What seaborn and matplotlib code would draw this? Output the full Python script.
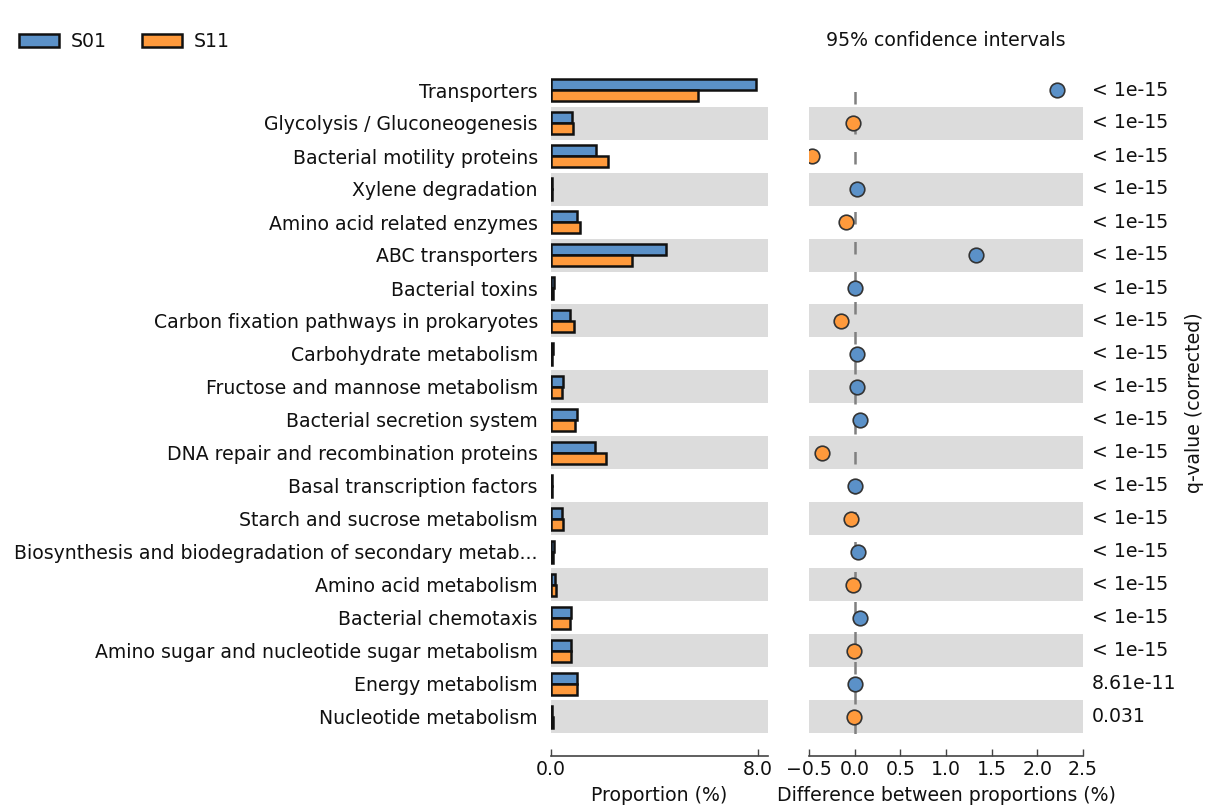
import matplotlib
matplotlib.use("Agg")
import matplotlib.pyplot as plt
from matplotlib.patches import Patch
import seaborn as sns
import pandas as pd

# Functional categories (top to bottom)
categories = [
    "Transporters",
    "Glycolysis / Gluconeogenesis",
    "Bacterial motility proteins",
    "Xylene degradation",
    "Amino acid related enzymes",
    "ABC transporters",
    "Bacterial toxins",
    "Carbon fixation pathways in prokaryotes",
    "Carbohydrate metabolism",
    "Fructose and mannose metabolism",
    "Bacterial secretion system",
    "DNA repair and recombination proteins",
    "Basal transcription factors",
    "Starch and sucrose metabolism",
    "Biosynthesis and biodegradation of secondary metab...",
    "Amino acid metabolism",
    "Bacterial chemotaxis",
    "Amino sugar and nucleotide sugar metabolism",
    "Energy metabolism",
    "Nucleotide metabolism",
]

# Mean proportions (%) per sample
s01 = [7.92, 0.82, 1.73, 0.05, 1.00, 4.47, 0.10, 0.75, 0.07, 0.45,
       1.00, 1.71, 0.03, 0.42, 0.12, 0.15, 0.78, 0.77, 1.00, 0.05]
s11 = [5.69, 0.86, 2.19, 0.04, 1.12, 3.15, 0.09, 0.88, 0.05, 0.44,
       0.94, 2.12, 0.02, 0.45, 0.09, 0.18, 0.75, 0.77, 0.99, 0.06]

# Difference between proportions (%), S01 - S11
diff = [2.21, -0.02, -0.47, 0.03, -0.10, 1.33, 0.005, -0.15, 0.025, 0.025,
        0.055, -0.36, 0.003, -0.035, 0.035, -0.02, 0.06, -0.005, 0.005, -0.005]

# Corrected q-values
qvals = ["< 1e-15"] * 18 + ["8.61e-11", "0.031"]

samples = ["S01", "S11"]
colors = {"S01": "#5b91c8", "S11": "#ff9a3c"}

sns.set_style("white")
plt.rcParams["font.family"] = ["DejaVu Sans"]
plt.rcParams["text.color"] = "#111111"
plt.rcParams["xtick.color"] = "#111111"
plt.rcParams["ytick.color"] = "#111111"
plt.rcParams["axes.labelcolor"] = "#111111"
FS = 13.6

W, H = 1206, 809
fig = plt.figure(figsize=(W / 100, H / 100), dpi=100)

def frac_axes(x0, x1, y0, y1):
    return fig.add_axes([x0 / W, 1 - y1 / H, (x1 - x0) / W, (y1 - y0) / H])

ax1 = frac_axes(551, 768, 73.5, 733.5)
ax2 = frac_axes(809, 1083, 73.5, 733.5)

# Alternating gray row bands
for ax in (ax1, ax2):
    for i in range(len(categories)):
        if i % 2 == 1:
            ax.axhspan(i - 0.5, i + 0.5, color="#dcdcdc", lw=0, zorder=0)

# Left panel: proportions per sample
df = pd.DataFrame({
    "category": categories * 2,
    "sample": ["S01"] * len(categories) + ["S11"] * len(categories),
    "value": s01 + s11,
})
sns.barplot(data=df, x="value", y="category", hue="sample", order=categories,
            hue_order=samples, palette=colors, width=0.64, saturation=1,
            edgecolor="#111111", linewidth=1.8, errorbar=None, legend=False,
            ax=ax1, zorder=2)
ax1.set_xlim(0, 8.4)
ax1.set_ylim(len(categories) - 0.5, -0.5)
ax1.set_xticks([0, 8])
ax1.set_xticklabels(["0.0", "8.0"])
ax1.set_xlabel("Proportion (%)", fontsize=FS, labelpad=5)
ax1.set_ylabel("")
ax1.tick_params(axis="y", left=False, labelsize=FS, pad=6)

# Right panel: difference between proportions
winner = ["S01" if d > 0 else "S11" for d in diff]
ax2.axvline(0, color="#808080", lw=1.8, ls=(0, (5, 7)), zorder=1)
sns.stripplot(x=diff, y=categories, hue=winner, order=categories,
              hue_order=samples, palette=colors, jitter=False, size=10.5,
              linewidth=1.2, edgecolor="#333333", legend=False, ax=ax2,
              zorder=3)
ax2.set_xlim(-0.5, 2.5)
ax2.set_ylim(len(categories) - 0.5, -0.5)
ax2.set_xticks([-0.5, 0, 0.5, 1.0, 1.5, 2.0, 2.5])
ax2.set_xlabel("Difference between proportions (%)", fontsize=FS, labelpad=5)
ax2.set_ylabel("")
ax2.tick_params(axis="y", left=False, labelleft=False)

for i, q in enumerate(qvals):
    ax2.text(1.0 + 9 / 274, i, q, transform=ax2.get_yaxis_transform(),
             ha="left", va="center", fontsize=FS)

for ax in (ax1, ax2):
    for side in ("left", "top", "right"):
        ax.spines[side].set_visible(False)
    ax.spines["bottom"].set_position(("outward", 16))
    ax.spines["bottom"].set_color("#444444")
    ax.spines["bottom"].set_linewidth(1.2)
    ax.tick_params(axis="x", direction="in", length=5, width=1,
                   color="#444444", labelsize=FS, pad=3, bottom=True)

fig.text(946 / W, 1 - 41 / H, "95% confidence intervals", ha="center",
         va="center", fontsize=FS)
fig.text(1195 / W, 1 - 403 / H, "q-value (corrected)", rotation=90,
         ha="center", va="center", fontsize=FS)

handles = [Patch(facecolor=colors[s], edgecolor="#111111", linewidth=1.8, label=s)
           for s in samples]
fig.legend(handles=handles, loc="upper left", bbox_to_anchor=(0.002, 0.981),
           ncol=2, frameon=False, fontsize=FS, handlelength=2.1,
           handleheight=0.65, handletextpad=0.6, columnspacing=1.9)

fig.savefig("out.png", dpi=100)
